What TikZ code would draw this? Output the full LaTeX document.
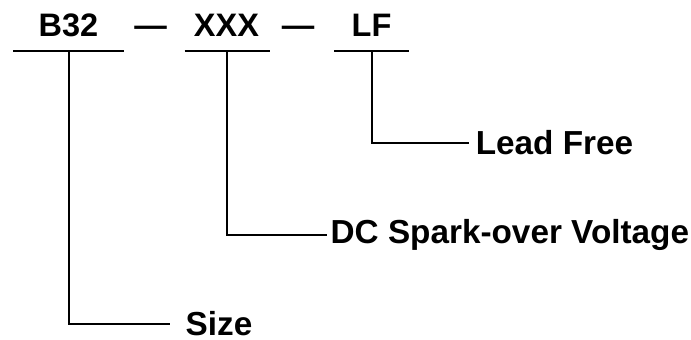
\documentclass[tikz,border=0pt]{standalone}
\usepackage{fontspec}
\setmainfont{Liberation Sans}
\begin{document}
\begin{tikzpicture}[x=1pt,y=1pt,
	part/.style={font=\bfseries\fontsize{32.5}{36}\selectfont,inner sep=0pt,anchor=base},
	meaning/.style={font=\bfseries\fontsize{33.3}{36}\selectfont,inner sep=0pt,anchor=west},
	bar/.style={line width=2pt},
	leader/.style={line width=2pt}]
	\useasboundingbox (0,0) rectangle (691,-340);
	% code parts
	\node[part] (b32) at (68.5,-36) {B32};
	\node[part] (dasha) at (150.5,-36) {—};
	\node[part] (xxx) at (226.5,-36) {XXX};
	\node[part] (dashb) at (298,-36) {—};
	\node[part] (lf) at (371.5,-36) {LF};
	% bars under the parts
	\foreach \n/\x/\w in {b32/68.5/55.5,xxx/227/42.5,lf/371.5/37.5} {
		\draw[bar] (\x-\w,-51) -- (\x+\w,-51);
		\coordinate (\n-bar) at (\x,-51);
	}
	% meanings
	\node[meaning] (lead) at (475.6,-143) {Lead Free};
	\node[meaning] (spark) at (330.5,-235) {DC Spark-over Voltage};
	\node[meaning] (size) at (185.5,-324) {Size};
	\draw[leader,shorten >=6.6pt] (lf-bar) |- (lead.west);
	\draw[leader,shorten >=3.5pt] (xxx-bar) |- (spark.west);
	\draw[leader,shorten >=15.5pt] (b32-bar) |- (size.west);
\end{tikzpicture}
\end{document}
